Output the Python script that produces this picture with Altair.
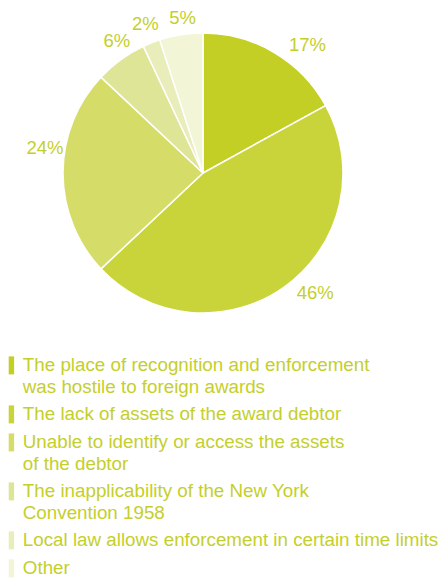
import altair as alt
import pandas as pd

categories = [
    "The place of recognition and enforcement|was hostile to foreign awards",
    "The lack of assets of the award debtor",
    "Unable to identify or access the assets|of the debtor",
    "The inapplicability of the New York|Convention 1958",
    "Local law allows enforcement in certain time limits",
    "Other",
]
values = [17, 46, 24, 6, 2, 5]
labels = ["17%", "46%", "24%", "6%", "2%", "5%"]
colors = ["#c3cf25", "#c9d43b", "#d5dd68", "#dfe596", "#e9edb9", "#f2f5d6"]
# label nudges (dx, dy) in pixels
nudges = [(22, 11), (17, -11), (4, -25), (9, -1), (2, 2), (5, 5)]

TEXT = "#c4cf2c"
FONT = "Liberation Sans"

df = pd.DataFrame({
    "category": categories,
    "value": values,
    "label": labels,
    "idx": list(range(len(values))),
})

CX, CY = 195, 165

arc = alt.Chart(df).mark_arc(outerRadius=140, stroke="white", strokeWidth=1.5).encode(
    theta=alt.Theta("value:Q", stack=True, scale=alt.Scale(domain=[0, 100])),
    order=alt.Order("idx:Q"),
    x=alt.value(CX),
    y=alt.value(CY),
    color=alt.Color(
        "category:N",
        sort=categories,
        scale=alt.Scale(domain=categories, range=colors),
        legend=alt.Legend(
            title=None,
            orient="none",
            legendX=-6,
            legendY=348,
            direction="vertical",
            labelExpr="split(datum.label, '|')",
            symbolType="M-0.3,-1H0.3V1H-0.3Z",
            symbolSize=324,
            symbolStrokeWidth=0,
            symbolOpacity=1,
            labelFont=FONT,
            labelFontSize=18.8,
            labelColor=TEXT,
            labelOffset=2,
            labelLimit=0,
            rowPadding=8,
            padding=0,
        ),
    ),
)

layers = [arc]
for i, (dx, dy) in enumerate(nudges):
    t = alt.Chart(df).transform_window(
        cum="sum(value)", sort=[alt.SortField("idx")], frame=[None, 0]
    ).transform_calculate(
        mid="datum.cum - datum.value / 2"
    ).transform_filter(
        alt.datum.idx == i
    ).mark_text(
        font=FONT, fontSize=18.5, color=TEXT, align="center", baseline="middle",
        radius=162, dx=dx, dy=dy,
    ).encode(
        theta=alt.Theta("mid:Q", scale=alt.Scale(domain=[0, 100])),
        x=alt.value(CX),
        y=alt.value(CY),
        text="label:N",
    )
    layers.append(t)

chart = alt.layer(*layers).properties(
    width=432, height=571, autosize=alt.AutoSizeParams(type="none"), padding=0,
).configure(
    style={"guide-label": {"lineHeight": 21.5}},
    view=alt.ViewConfig(strokeWidth=0, stroke="transparent"),
)

chart.save("out.html", embed_options={"renderer": "svg", "actions": False})
